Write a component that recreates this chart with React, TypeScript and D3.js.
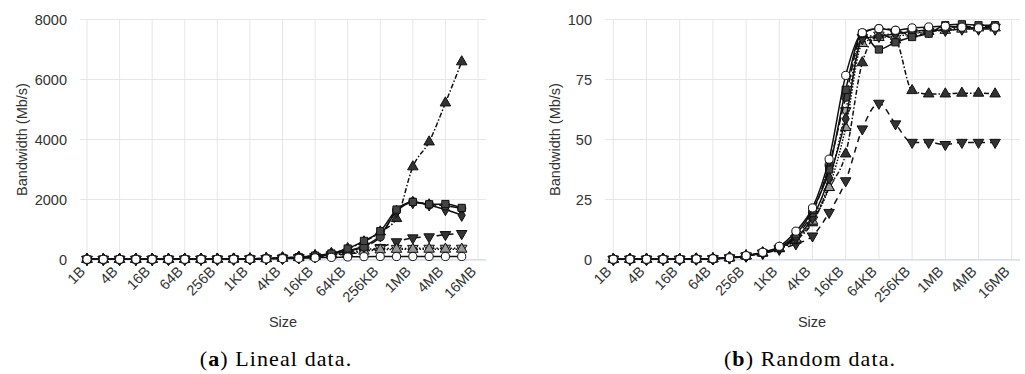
import React from "react";
import * as d3 from "d3";

const sizes = ["1B","2B","4B","8B","16B","32B","64B","128B","256B","512B","1KB","2KB","4KB","8KB","16KB","32KB","64KB","128KB","256KB","512KB","1MB","2MB","4MB","8MB"];
const tickLabels = ["1B","4B","16B","64B","256B","1KB","4KB","16KB","64KB","256KB","1MB","4MB","16MB"];

// Lineal data (Mb/s)
const linOpenCircle = [5,5,5,5,5,5,6,7,8,10,14,20,30,40,55,70,85,95,100,100,100,100,100,100];
const linSquare = [5,5,6,6,7,8,9,10,12,15,22,35,55,80,130,200,365,620,943,1665,1920,1840,1850,1720];
const linDiamond = [5,5,6,6,7,8,9,10,12,15,21,33,50,75,120,185,290,450,800,1600,1900,1820,1665,1475];
const linCircle = [5,5,6,6,7,8,9,10,12,15,21,32,50,74,118,180,280,420,755,1640,1920,1830,1790,1700];
const linGrayUp = [5,5,5,6,6,7,8,9,11,13,18,27,40,60,95,150,200,280,320,340,340,345,345,345];
const linGrayDown = [5,5,5,6,6,7,8,9,11,13,19,28,42,62,100,160,220,320,370,370,370,375,375,375];
const linTriUp = [5,5,6,6,7,8,9,10,12,15,22,35,55,80,130,200,365,590,920,1365,3090,3920,5220,6590];
const linTriDown = [5,5,5,6,6,7,8,9,11,13,18,26,38,55,85,130,180,250,400,590,720,755,830,865];

// Random data (Mb/s)
const rndOpenCircle = [0.1,0.1,0.1,0.1,0.1,0.2,0.3,0.7,1.6,3.0,5.5,11.8,21.5,41.8,76.7,94.5,96.2,95.5,96.5,96.9,97.2,96.8,96.5,96.8];
const rndSquare = [0.1,0.1,0.1,0.1,0.1,0.2,0.3,0.7,1.5,2.8,5.0,10.5,20.6,37.5,70.7,94.2,87.5,90.5,92.7,94.1,97.6,98.0,97.6,97.6];
const rndDiamond = [0.1,0.1,0.1,0.1,0.1,0.2,0.3,0.7,1.5,2.8,4.8,9.0,17.5,34.0,58.6,92.0,93.0,94.0,95.0,95.5,95.5,96.0,96.0,96.0];
const rndCircle = [0.1,0.1,0.1,0.1,0.1,0.2,0.3,0.7,1.5,2.8,5.0,9.8,19.5,39.3,67.6,94.2,96.2,95.5,93.5,94.5,96.5,97.0,97.0,97.5];
const rndGrayUp = [0.1,0.1,0.1,0.1,0.1,0.2,0.3,0.7,1.5,2.7,4.6,8.5,16.0,30.0,55.0,90.0,92.5,93.0,94.0,95.0,95.5,96.0,96.5,96.5];
const rndGrayDown = [0.1,0.1,0.1,0.1,0.1,0.2,0.3,0.7,1.5,2.7,4.7,8.8,16.5,32.0,62.0,92.5,93.5,94.0,94.5,95.0,96.0,96.5,96.5,96.8];
const rndTriUp = [0.1,0.1,0.1,0.1,0.1,0.2,0.3,0.7,1.5,2.7,4.5,8.0,15.3,30.0,44.0,82.0,93.5,91.5,70.4,69.0,69.0,69.3,69.3,69.0];
const rndTriDown = [0.1,0.1,0.1,0.1,0.1,0.2,0.3,0.6,1.4,2.5,4.2,6.5,9.8,19.6,32.8,54.4,65.1,56.5,48.8,48.8,47.9,48.8,48.8,48.8];

const linTicks = [0, 2000, 4000, 6000, 8000];
const rndTicks = [0, 25, 50, 75, 100];

type Style = { symbol: string; down?: boolean; fill: string; dash: string; width: number };
const styles: Style[] = [
  { symbol: "triangle", down: true, fill: "#333", dash: "6,5", width: 1.5 },
  { symbol: "triangle", fill: "#333", dash: "5,2,1.5,2", width: 1.5 },
  { symbol: "triangle", down: true, fill: "#aaa", dash: "1.5,2", width: 1.5 },
  { symbol: "triangle", fill: "#999", dash: "1.5,1.5", width: 1.5 },
  { symbol: "diamond", fill: "#333", dash: "", width: 1.5 },
  { symbol: "circle", fill: "#444", dash: "8,3", width: 1.5 },
  { symbol: "square", fill: "#444", dash: "", width: 1.5 },
  { symbol: "circle", fill: "#fff", dash: "", width: 1.5 },
];

const linSeries = [linTriDown, linTriUp, linGrayDown, linGrayUp, linDiamond, linCircle, linSquare, linOpenCircle];
const rndSeries = [rndTriDown, rndTriUp, rndGrayDown, rndGrayUp, rndDiamond, rndCircle, rndSquare, rndOpenCircle];

const SANS = "'Liberation Sans', Arial, Helvetica, sans-serif";
const FS = 14.5;

function symbolPath(s: Style) {
  const t = s.symbol === "circle" ? d3.symbolCircle : s.symbol === "square" ? d3.symbolSquare : s.symbol === "diamond" ? d3.symbolDiamond : d3.symbolTriangle;
  const size = s.symbol === "circle" ? 52 : s.symbol === "square" ? 52 : s.symbol === "diamond" ? 44 : 48;
  return d3.symbol(t, size)() as string;
}

function Chart(props: {
  left: number; right: number; x0: number; x16: number; top: number; bottom: number;
  yMax: number; ticks: number[]; series: number[][]; titleX: number; sizeX: number;
  capX: number; capLetter: string; capText: string;
}) {
  const { left, right, x0, x16, top, bottom, yMax, ticks, series } = props;
  const x = d3.scaleLinear().domain([0, 24]).range([x0, x16]);
  const y = d3.scaleLinear().domain([0, yMax]).range([bottom, top]);
  const line = d3.line<number>().x((_, i) => x(i)).y((d) => y(d)).curve(d3.curveMonotoneX);
  const tickIdx = tickLabels.map((_, k) => k * 2);
  return (
    <g>
      {ticks.map((t) => (
        <line key={"h" + t} x1={left} x2={right} y1={y(t)} y2={y(t)} stroke="#e6e6e6" strokeWidth={1} />
      ))}
      {tickIdx.map((i) => (
        <line key={"v" + i} x1={x(i)} x2={x(i)} y1={top} y2={bottom} stroke="#e6e6e6" strokeWidth={1} />
      ))}
      <line x1={left} x2={right} y1={bottom + 0.5} y2={bottom + 0.5} stroke="#ccd6eb" strokeWidth={1} />
      {ticks.map((t) => (
        <text key={"yl" + t} x={left - 13} y={y(t) + 5} textAnchor="end" fontFamily={SANS} fontSize={FS} fill="#333">{t}</text>
      ))}
      {tickLabels.map((lab, k) => (
        <text key={"xl" + k} transform={`translate(${x(k * 2) - 1},${bottom + 13}) rotate(-45)`} textAnchor="end" fontFamily={SANS} fontSize={FS} fill="#333">{lab}</text>
      ))}
      <text transform={`translate(${props.titleX},${(top + bottom) / 2}) rotate(-90)`} textAnchor="middle" fontFamily={SANS} fontSize={FS} fill="#333">Bandwidth (Mb/s)</text>
      <text x={props.sizeX} y={327} textAnchor="middle" fontFamily={SANS} fontSize={FS} fill="#333">Size</text>
      {series.map((vals, si) => {
        const s = styles[si];
        const p = symbolPath(s);
        return (
          <g key={"s" + si}>
            <path d={line(vals) as string} fill="none" stroke="#111" strokeWidth={s.width} strokeDasharray={s.dash || undefined} />
            {vals.map((v, i) => (
              <path key={i} d={p} transform={`translate(${x(i)},${y(v)})${s.down ? " rotate(180)" : ""}`} fill={s.fill} stroke="#111" strokeWidth={1} />
            ))}
          </g>
        );
      })}
      <text x={props.capX} y={366} textAnchor="middle" fontFamily="'Liberation Serif', 'Times New Roman', serif" fontSize={22} letterSpacing={1.1} fill="#000">
        (<tspan fontWeight="bold">{props.capLetter}</tspan>) {props.capText}
      </text>
    </g>
  );
}

export default function App() {
  return (
    <svg width={1025} height={374} style={{ position: "absolute", left: 0, top: 0, background: "#fff" }}>
      <Chart left={80} right={486} x0={87} x16={478} top={19.5} bottom={259.5} yMax={8000} ticks={linTicks}
        series={linSeries} titleX={27} sizeX={283} capX={276} capLetter="a" capText="Lineal data." />
      <Chart left={605} right={1020} x0={613.3} x16={1011.7} top={19.5} bottom={259.5} yMax={100} ticks={rndTicks}
        series={rndSeries} titleX={560} sizeX={812} capX={810} capLetter="b" capText="Random data." />
    </svg>
  );
}
